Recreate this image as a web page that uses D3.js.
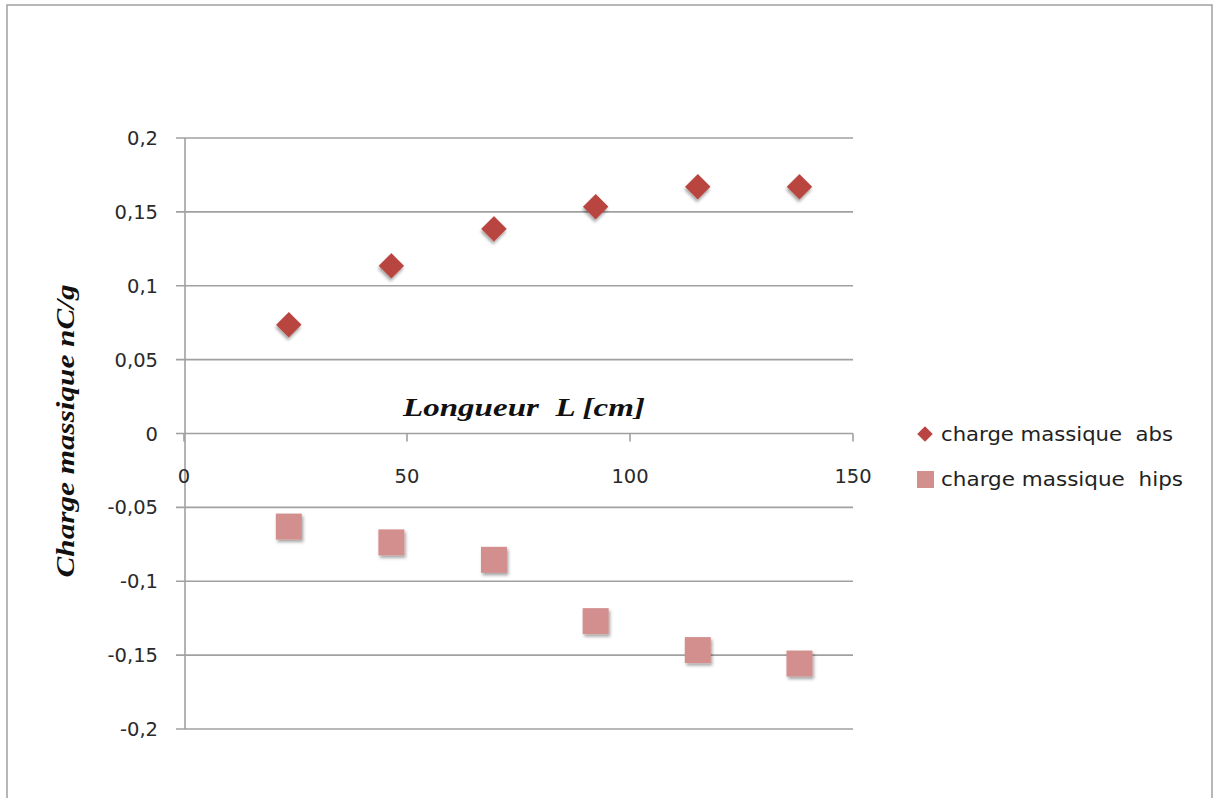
<!DOCTYPE html>
<html><head><meta charset="utf-8">
<script src="https://cdn.jsdelivr.net/npm/d3@7"></script>
<style>
body{margin:0;background:#fff;}
svg text{white-space:pre;}
</style></head>
<body>
<svg id="chart" width="1213" height="798"></svg>
<script>
const xValues = [23.5, 46.5, 69.5, 92.3, 115.2, 138];
const absValues = [0.0736, 0.1135, 0.1385, 0.1535, 0.167, 0.167];
const hipsValues = [-0.063, -0.0737, -0.0855, -0.127, -0.1466, -0.1557];
const seriesNames = ["charge massique  abs", "charge massique  hips"];
const xTicks = [0, 50, 100, 150];
const yTicks = [-0.2, -0.15, -0.1, -0.05, 0, 0.05, 0.1, 0.15, 0.2];
const xTitle = "Longueur  L [cm]";
const yTitle = "Charge massique nC/g";

const svg = d3.select("#chart");
const defs = svg.append("defs");
const f = defs.append("filter").attr("id","sh").attr("x","-50%").attr("y","-50%").attr("width","200%").attr("height","200%");
f.append("feDropShadow").attr("dx",1.5).attr("dy",2.5).attr("stdDeviation",1.8).attr("flood-color","#000").attr("flood-opacity",0.35);

// outer border
svg.append("rect").attr("x",7).attr("y",5).attr("width",1205).attr("height",800)
  .attr("fill","none").attr("stroke","#a0a0a0").attr("stroke-width",1.5);

const x = d3.scaleLinear().domain([0,150]).range([184,853]);
const y = d3.scaleLinear().domain([-0.2,0.2]).range([729,138]);
const fmt = d => String(+d.toFixed(2)).replace(".", ",");
const tickFont = "DejaVu Sans";

// gridlines
svg.append("g").selectAll("line").data(yTicks).join("line")
  .attr("x1",176).attr("x2",853).attr("y1",d=>y(d)).attr("y2",d=>y(d))
  .attr("stroke","#a0a0a0").attr("stroke-width",1.6);

// y axis
svg.append("line").attr("x1",x(0)+1).attr("x2",x(0)+1).attr("y1",y(0.2)).attr("y2",y(-0.2))
  .attr("stroke","#a0a0a0").attr("stroke-width",1.6);
svg.append("g").selectAll("text").data(yTicks).join("text")
  .attr("x",158).attr("y",d=>y(d)).attr("dy","0.36em").attr("text-anchor","end")
  .attr("font-family",tickFont).attr("font-size",19.5).attr("fill","#2a2a2a")
  .text(fmt);

// x axis ticks and labels at y=0
svg.append("g").selectAll("line").data(xTicks).join("line")
  .attr("x1",d=>x(d)).attr("x2",d=>x(d)).attr("y1",y(0)).attr("y2",y(0)+8)
  .attr("stroke","#a0a0a0").attr("stroke-width",1.6);
svg.append("g").selectAll("text").data(xTicks).join("text")
  .attr("x",d=>x(d)).attr("y",y(0)+49).attr("text-anchor","middle")
  .attr("font-family",tickFont).attr("font-size",19.5).attr("fill","#2a2a2a")
  .text(d=>d);

// titles
svg.append("text").attr("x",524).attr("y",416).attr("text-anchor","middle")
  .attr("font-family","Liberation Serif").attr("font-style","italic").attr("font-weight","bold")
  .attr("font-size",26).attr("textLength",242).attr("lengthAdjust","spacingAndGlyphs")
  .attr("fill","#111").text(xTitle);
svg.append("text").attr("transform","translate(74,431) rotate(-90)").attr("text-anchor","middle")
  .attr("font-family","Liberation Serif").attr("font-style","italic").attr("font-weight","bold")
  .attr("font-size",26).attr("textLength",293).attr("lengthAdjust","spacingAndGlyphs")
  .attr("fill","#111").text(yTitle);

const absColor = "#b94441", hipsColor = "#d38e8e";
const diamond = d3.symbol().type(d3.symbolSquare).size(18*18);

// abs diamonds
svg.append("g").selectAll("path").data(xValues).join("path")
  .attr("d", diamond)
  .attr("transform",(d,i)=>`translate(${x(d)},${y(absValues[i])}) rotate(45)`)
  .attr("fill",absColor).attr("filter","url(#sh)");
// hips squares
svg.append("g").selectAll("rect").data(xValues).join("rect")
  .attr("x",d=>x(d)-13).attr("y",(d,i)=>y(hipsValues[i])-13)
  .attr("width",26).attr("height",26)
  .attr("fill",hipsColor).attr("filter","url(#sh)");

// legend
const lg = svg.append("g");
lg.append("path").attr("d",d3.symbol().type(d3.symbolSquare).size(11*11))
  .attr("transform","translate(925,434) rotate(45)").attr("fill",absColor);
lg.append("rect").attr("x",917).attr("y",471).attr("width",17).attr("height",17).attr("fill",hipsColor);
lg.selectAll("text").data(seriesNames).join("text")
  .attr("x",941).attr("y",(d,i)=>434+i*45).attr("dy","0.36em")
  .attr("font-family",tickFont).attr("font-size",19).attr("fill","#222")
  .attr("textLength",(d,i)=>i===0?232:242).attr("lengthAdjust","spacingAndGlyphs")
  .text(d=>d);
</script>
</body></html>
